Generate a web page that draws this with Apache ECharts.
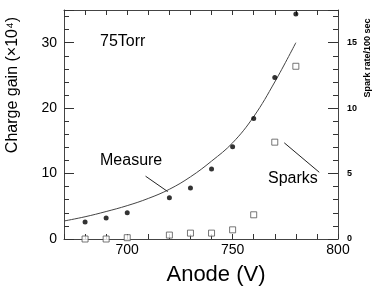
<!DOCTYPE html>
<html><head><meta charset="utf-8">
<script src="https://cdn.jsdelivr.net/npm/echarts@6/dist/echarts.min.js"></script>
<style>html,body{margin:0;padding:0;background:#fff}#c{width:374px;height:296px}</style>
</head><body><div id="c"></div>
<script>
// Data
const gainVoltage = [680, 690, 700, 720, 730, 740, 750, 760, 770, 780];
const gainValues = [2.6, 3.2, 4.0, 6.3, 7.8, 10.7, 14.1, 18.4, 24.7, 34.4];
const sparkVoltage = [680, 690, 700, 720, 730, 740, 750, 760, 770, 780];
const sparkValues = [0, 0, 0.1, 0.3, 0.45, 0.45, 0.7, 1.85, 7.4, 13.2];
const fitVoltage = [670, 680, 690, 700, 710, 720, 730, 740, 750, 760, 770, 780];
const fitValues = [2.75, 3.4, 4.2, 5.1, 6.2, 7.6, 9.5, 11.9, 14.7, 18.7, 24.0, 30.0];
const xLabels = [700, 750, 800];
const yLeftLabels = [0, 10, 20, 30];
const yRightLabels = [0, 5, 10, 15];

const F = "'Liberation Sans', Arial, Helvetica, sans-serif";
const AX = '#444';
const TK = '#333';
const chart = echarts.init(document.getElementById('c'), null, {renderer: 'canvas'});
const zip = (a, b) => a.map((v, i) => [v, b[i]]);

function xAx(pos, labels) {
  return {
    type: 'value', position: pos, min: 670, max: 800, interval: 10,
    axisLine: {show: true, onZero: false, lineStyle: {color: AX, width: 1}},
    axisTick: {show: true, inside: true, length: 5, lineStyle: {color: TK, width: 1}},
    axisLabel: labels ? {show: true, customValues: xLabels, color: '#000', fontSize: 14, fontFamily: F, margin: 4} : {show: false},
    splitLine: {show: false}
  };
}
function yAx(pos, max, interval, len, labels, fs, bold, line) {
  return {
    type: 'value', position: pos, min: 0, max: max, interval: interval,
    axisLine: {show: line, onZero: false, lineStyle: {color: AX, width: 1}},
    axisTick: {show: true, inside: true, length: len, lineStyle: {color: TK, width: 1}},
    axisLabel: labels ? {show: true, customValues: labels, color: '#000', fontSize: fs, fontWeight: bold ? 'bold' : 'normal', fontFamily: F, margin: pos === 'left' ? 7 : 9} : {show: false},
    splitLine: {show: false}
  };
}

chart.setOption({
  animation: false,
  backgroundColor: '#fff',
  grid: {left: 64, right: 36, top: 10, bottom: 57, containLabel: false},
  xAxis: [xAx('bottom', true), xAx('top', false)],
  yAxis: [
    yAx('left', 35, 2, 5, yLeftLabels, 14, false, true),
    yAx('right', 17.5, 1, 5, yRightLabels, 9, true, true),
    yAx('left', 35, 10, 10, null, 0, false, false),
    yAx('right', 17.5, 5, 10, null, 0, false, false)
  ],
  series: [
    {
      type: 'line', data: zip(fitVoltage, fitValues), smooth: 0.4, showSymbol: false,
      lineStyle: {color: '#444', width: 1}, xAxisIndex: 0, yAxisIndex: 0, z: 2
    },
    {
      type: 'scatter', data: zip(gainVoltage, gainValues), symbol: 'circle', symbolSize: 5,
      itemStyle: {color: '#000'}, xAxisIndex: 0, yAxisIndex: 0, z: 3,
      markLine: {
        silent: true, symbol: ['none', 'arrow'], symbolSize: [0, 9], label: {show: false},
        lineStyle: {color: '#222', width: 1, type: 'solid'},
        data: [[{coord: [708.7, 9.6]}, {coord: [719.2, 7.25]}]]
      }
    },
    {
      type: 'scatter', data: zip(sparkVoltage, sparkValues), symbol: 'rect', symbolSize: 6,
      itemStyle: {color: '#fff', borderColor: '#555', borderWidth: 1}, xAxisIndex: 0, yAxisIndex: 1, z: 3,
      markLine: {
        silent: true, symbol: ['none', 'arrow'], symbolSize: [0, 9], label: {show: false},
        lineStyle: {color: '#222', width: 1, type: 'solid'},
        data: [[{coord: [791.1, 5.1]}, {coord: [774.5, 7.35]}]]
      }
    }
  ],
  graphic: [
    {type: 'text', left: 100, top: 34, style: {text: '75Torr', font: '16px ' + F, fill: '#000'}},
    {type: 'text', left: 100, top: 153, style: {text: 'Measure', font: '16px ' + F, fill: '#000'}},
    {type: 'text', left: 268, top: 171, style: {text: 'Sparks', font: '16px ' + F, fill: '#000'}},
    {type: 'text', x: 216, y: 275, style: {text: 'Anode (V)', font: '22px ' + F, fill: '#000', align: 'center', verticalAlign: 'middle'}},
    {type: 'text', x: 12.5, y: 85, rotation: Math.PI / 2, style: {text: 'Charge gain (×10⁴)', font: '16px ' + F, fill: '#000', align: 'center', verticalAlign: 'middle'}},
    {type: 'text', x: 368, y: 58, rotation: Math.PI / 2, style: {text: 'Spark rate/100 sec', font: 'bold 9px ' + F, fill: '#000', align: 'center', verticalAlign: 'middle'}}
  ]
});
</script></body></html>
